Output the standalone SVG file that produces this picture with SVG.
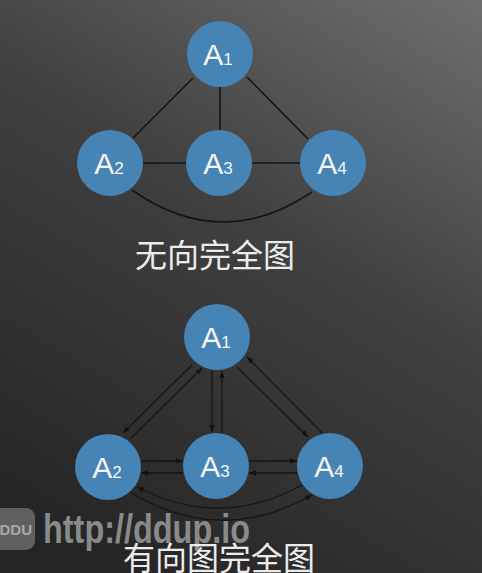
<svg xmlns="http://www.w3.org/2000/svg" width="482" height="573" viewBox="0 0 482 573">
<defs>
<linearGradient id="bg" gradientUnits="userSpaceOnUse" x1="470" y1="0" x2="120" y2="573">
<stop offset="0" stop-color="#6d6d6d"/>
<stop offset="0.45" stop-color="#404040"/>
<stop offset="1" stop-color="#252525"/>
</linearGradient>
<marker id="ah" markerUnits="userSpaceOnUse" markerWidth="8" markerHeight="6" refX="7" refY="3" orient="auto">
<path d="M0,0.3 L7,3 L0,5.7 z" fill="#111"/>
</marker>
<style>
.node circle{fill:#4784b6;}
.lbl{font-family:"Liberation Sans","Helvetica",sans-serif;fill:#f4f7fa;text-anchor:middle;font-size:30px;}
.sub{font-size:17px;}
.edge{stroke:#151515;stroke-width:1.6;fill:none;}
.arc{stroke:#151515;stroke-width:1.3;fill:none;marker-end:url(#ah);}
.cap{font-family:"Noto Sans CJK SC","Noto Sans CJK JP",sans-serif;fill:#ececec;font-size:32px;text-anchor:middle;}
.wm{font-family:"Liberation Sans",sans-serif;font-weight:bold;fill:#8a8a8a;}
</style>
</defs>
<rect width="482" height="573" fill="url(#bg)"/>

<g id="connectors-undirected">
<line class="edge" x1="193" y1="78" x2="133" y2="138"/>
<line class="edge" x1="220" y1="86" x2="220" y2="131"/>
<line class="edge" x1="247" y1="77" x2="308" y2="139"/>
<line class="edge" x1="142" y1="163" x2="187" y2="163"/>
<line class="edge" x1="251" y1="163" x2="301" y2="163"/>
<path class="edge" d="M132,190 Q222,253 312,192"/>
</g>

<g id="u-A1" class="node"><circle cx="220" cy="54" r="33"/><text class="lbl" x="218" y="65">A<tspan class="sub">1</tspan></text></g>
<g id="u-A2" class="node"><circle cx="110" cy="163" r="33"/><text class="lbl" x="109" y="174">A<tspan class="sub">2</tspan></text></g>
<g id="u-A3" class="node"><circle cx="219" cy="163" r="33"/><text class="lbl" x="218" y="174">A<tspan class="sub">3</tspan></text></g>
<g id="u-A4" class="node"><circle cx="333" cy="163" r="33"/><text class="lbl" x="332" y="174">A<tspan class="sub">4</tspan></text></g>

<text id="caption-undirected" class="cap" x="215" y="267">无向完全图</text>

<g id="connectors-directed">
<line class="arc" x1="192" y1="365" x2="123" y2="433"/>
<line class="arc" x1="130" y1="439" x2="202" y2="368"/>
<line class="arc" x1="212" y1="370" x2="212" y2="432"/>
<line class="arc" x1="222" y1="433" x2="222" y2="371"/>
<line class="arc" x1="237" y1="367" x2="308" y2="437"/>
<line class="arc" x1="322" y1="433" x2="247" y2="357"/>
<line class="arc" x1="141" y1="461" x2="183" y2="461"/>
<line class="arc" x1="183" y1="473" x2="141" y2="473"/>
<line class="arc" x1="249" y1="461" x2="297" y2="461"/>
<line class="arc" x1="297" y1="473" x2="249" y2="473"/>
<path class="arc" d="M302,485 Q220,530 137,487"/>
<path class="arc" d="M130,492 Q221,547 312,495"/>
</g>

<g id="d-A1" class="node"><circle cx="217" cy="337" r="33"/><text class="lbl" x="216" y="348">A<tspan class="sub">1</tspan></text></g>
<g id="d-A2" class="node"><circle cx="108" cy="467" r="33"/><text class="lbl" x="107" y="478">A<tspan class="sub">2</tspan></text></g>
<g id="d-A3" class="node"><circle cx="216" cy="466" r="33"/><text class="lbl" x="215" y="477">A<tspan class="sub">3</tspan></text></g>
<g id="d-A4" class="node"><circle cx="330" cy="466" r="33"/><text class="lbl" x="329" y="477">A<tspan class="sub">4</tspan></text></g>

<g id="watermark">
<rect x="-20" y="508" width="55" height="42" rx="9" fill="#606060"/>
<text class="wm" x="32" y="535" font-size="15" text-anchor="end" fill="#a8a8a8" style="fill:#a8a8a8">DDU</text>
<text class="wm" x="43" y="543" font-size="40" textLength="207" lengthAdjust="spacingAndGlyphs">http://ddup.io</text>
</g>

<text id="caption-directed" class="cap" x="219" y="570">有向图完全图</text>
</svg>
